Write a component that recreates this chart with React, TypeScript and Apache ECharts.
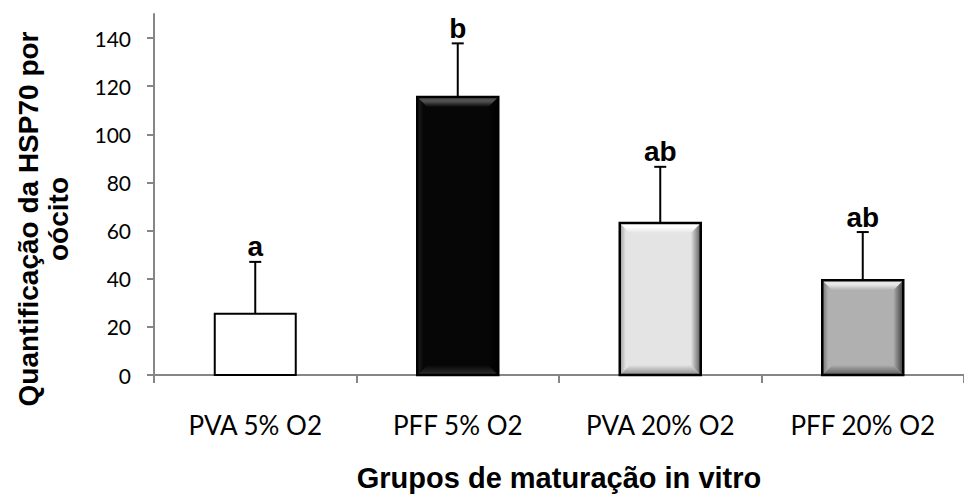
import React, { useEffect, useRef } from "react";
import * as echarts from "echarts";

const categories = ["PVA 5% O2", "PFF 5% O2", "PVA 20% O2", "PFF 20% O2"];
const means = [25.5, 115.5, 63.2, 39.4];
const errors = [21.5, 22.3, 23.3, 20.0];
const letters = ["a", "b", "ab", "ab"];
const yTicks = [0, 20, 40, 60, 80, 100, 120, 140];

const barBase = ["#ffffff", "#060606", "#e4e4e4", "#b0b0b0"];
const bevelTop = ["#ffffff", "#505050", "#ffffff", "#e8e8e8"];
const bevelLeft = ["#ffffff", "#222222", "#9a9a9a", "#707070"];
const bevelRight = ["#ffffff", "#000000", "#5a5a5a", "#3a3a3a"];
const bevelBottom = ["#ffffff", "#303030", "#8a8a8a", "#5a5a5a"];
const hasBevel = [false, true, true, true];

export default function App() {
  const ref = useRef<HTMLDivElement>(null);
  useEffect(() => {
    if (!ref.current) return;
    const chart = echarts.init(ref.current, null, { renderer: "svg" });
    const LG = echarts.graphic.LinearGradient;

    const barData = means.map((v, i) => [i, v]);
    const errData = means.map((v, i) => [i, v, errors[i]]);

    chart.setOption({
      animation: false,
      backgroundColor: "#ffffff",
      grid: { left: 154, top: 14, bottom: 117, right: -10, containLabel: false },
      xAxis: {
        type: "category",
        data: categories,
        boundaryGap: true,
        axisLine: { show: true, lineStyle: { color: "#868686", width: 2 } },
        axisTick: { show: true, length: 8, lineStyle: { color: "#868686", width: 2 } },
        axisLabel: {
          fontFamily: "Lato, 'Open Sans', sans-serif",
          fontSize: 26,
          color: "#000",
          margin: 37,
        },
        name: "Grupos de maturação in vitro",
        nameLocation: "middle",
        nameGap: 88,
        nameTextStyle: {
          fontFamily: "'Liberation Sans', Arial, sans-serif",
          fontWeight: "bold",
          fontSize: 29,
          color: "#000",
        },
      },
      yAxis: {
        type: "value",
        min: 0,
        max: 150,
        interval: 20,
        splitLine: { show: false },
        axisLine: { show: true, lineStyle: { color: "#868686", width: 2 } },
        axisTick: {
          show: true,
          length: 7,
          customValues: yTicks,
          lineStyle: { color: "#868686", width: 2 },
        },
        axisLabel: {
          customValues: yTicks,
          fontFamily: "Lato, 'Open Sans', sans-serif",
          fontSize: 21,
          color: "#000",
          margin: 23,
        },
      },
      graphic: [
        {
          type: "text",
          x: 43,
          y: 219,
          rotation: Math.PI / 2,
          style: {
            text: "Quantificação da HSP70 por\noócito",
            font: "bold 28px 'Liberation Sans', Arial, sans-serif",
            fill: "#000",
            align: "center",
            verticalAlign: "middle",
            lineHeight: 30,
          },
        },
      ],
      series: [
        {
          type: "custom",
          data: barData,
          renderItem: (params: any, api: any) => {
            const i = params.dataIndex;
            const top = api.coord([api.value(0), api.value(1)]);
            const base = api.coord([api.value(0), 0]);
            const w = api.size([1, 0])[0] * 0.4;
            const x = top[0] - w / 2;
            const y = top[1];
            const h = base[1] - top[1];
            const b = 10;
            const children: any[] = [
              {
                type: "rect",
                shape: { x, y, width: w, height: h },
                style: { fill: barBase[i] },
              },
            ];
            if (hasBevel[i]) {
              children.push(
                {
                  type: "polygon",
                  shape: { points: [[x, y + h], [x + b, y + h - b], [x + w - b, y + h - b], [x + w, y + h]] },
                  style: { fill: new LG(0, 0, 0, 1, [{ offset: 0, color: barBase[i] }, { offset: 1, color: bevelBottom[i] }]) },
                },
                {
                  type: "polygon",
                  shape: { points: [[x, y], [x + b, y + b], [x + b, y + h - b], [x, y + h]] },
                  style: { fill: new LG(0, 0, 1, 0, [{ offset: 0, color: bevelLeft[i] }, { offset: 0.6, color: barBase[i] }, { offset: 1, color: barBase[i] }]) },
                },
                {
                  type: "polygon",
                  shape: { points: [[x + w, y], [x + w, y + h], [x + w - b, y + h - b], [x + w - b, y + b]] },
                  style: { fill: new LG(0, 0, 1, 0, [{ offset: 0, color: barBase[i] }, { offset: 1, color: bevelRight[i] }]) },
                },
                {
                  type: "polygon",
                  shape: { points: [[x, y], [x + w, y], [x + w - b, y + b], [x + b, y + b]] },
                  style: { fill: new LG(0, 0, 0, 1, [{ offset: 0, color: bevelTop[i] }, { offset: 0.45, color: bevelTop[i] }, { offset: 1, color: barBase[i] }]) },
                }
              );
            }
            children.push({
              type: "rect",
              shape: { x, y, width: w, height: h },
              style: { fill: "none", stroke: "#000", lineWidth: i === 0 ? 2 : 2.5 },
            });
            return { type: "group", children };
          },
          z: 2,
        },
        {
          type: "custom",
          data: errData,
          renderItem: (params: any, api: any) => {
            const i = params.dataIndex;
            const v = api.value(1);
            const e = api.value(2);
            const p0 = api.coord([api.value(0), v]);
            const p1 = api.coord([api.value(0), v + e]);
            const cap = 6;
            return {
              type: "group",
              children: [
                {
                  type: "line",
                  shape: { x1: p0[0], y1: p0[1], x2: p1[0], y2: p1[1] },
                  style: { stroke: "#000", lineWidth: 2 },
                },
                {
                  type: "line",
                  shape: { x1: p1[0] - cap, y1: p1[1], x2: p1[0] + cap, y2: p1[1] },
                  style: { stroke: "#000", lineWidth: 2 },
                },
                {
                  type: "text",
                  style: {
                    x: p1[0],
                    y: p1[1] - 1,
                    text: letters[i],
                    font: "bold 28px 'Liberation Sans', Arial, sans-serif",
                    fill: "#000",
                    align: "center",
                    verticalAlign: "bottom",
                  },
                },
              ],
            };
          },
          z: 3,
        },
      ],
    });
    return () => chart.dispose();
  }, []);
  return (
    <div
      ref={ref}
      style={{ position: "fixed", left: 0, top: 0, width: 964, height: 497 }}
    />
  );
}
